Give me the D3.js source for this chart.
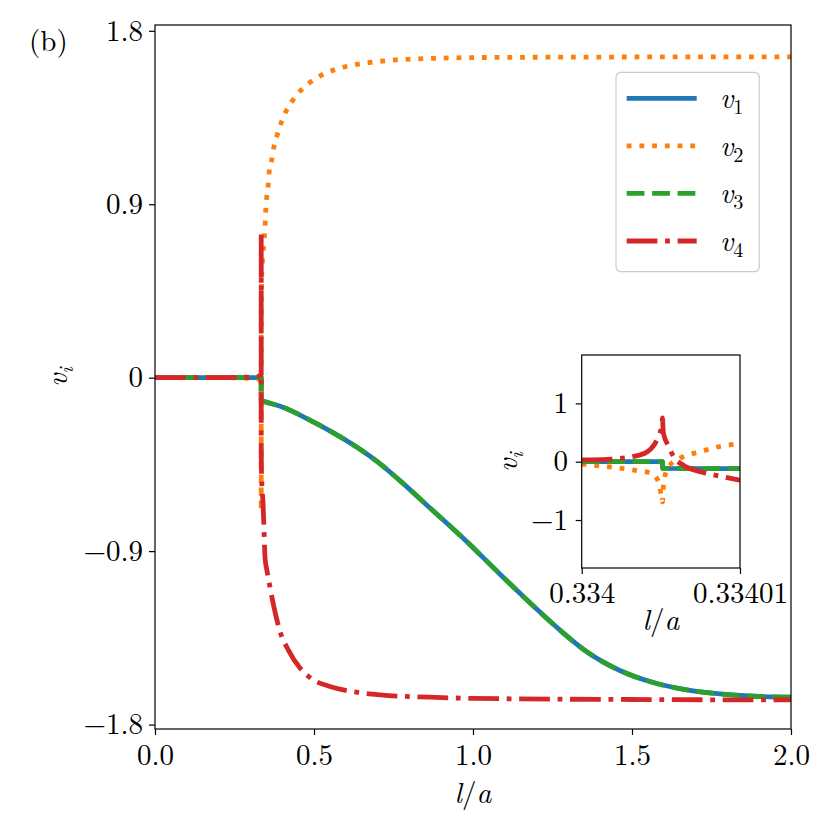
<!DOCTYPE html>
<html><head><meta charset="utf-8">
<script src="https://cdn.jsdelivr.net/npm/d3@7"></script>
<style>
body{margin:0;background:#fff}
svg{display:block}
text{font-family:"Latin Modern Roman","Liberation Serif",serif;fill:#000}
</style>
</head><body>
<svg id="chart" width="830" height="830"></svg>
<script>
// ---------------- data ----------------
const seriesLabels = ["1", "2", "3", "4"];           // subscripts of v_i
const seriesColors = ["#1f77b4", "#ff7f0e", "#2ca02c", "#d62728"];

const xTicksMain = [0, 0.5, 1.0, 1.5, 2.0];
const xTickLabelsMain = ["0.0", "0.5", "1.0", "1.5", "2.0"];
const yTicksMain = [-1.8, -0.9, 0, 0.9, 1.8];
const yTickLabelsMain = ["\u22121.8", "\u22120.9", "0", "0.9", "1.8"];
const xTicksInset = [0.334, 0.33401];
const xTickLabelsInset = ["0.334", "0.33401"];
const yTicksInset = [-1, 0, 1];
const yTickLabelsInset = ["\u22121", "0", "1"];

// values near the transition (inset window 0.334 .. 0.33401)
const v1Inset = [[0.334,0],[0.3340051,0],[0.33400512,-0.115],[0.33401,-0.118]];
const v3Inset = [[0.334,0],[0.3340051,0],[0.33400512,-0.115],[0.33401,-0.118]];
const v2Inset = [[0.334,-0.04],[0.3340013,-0.075],[0.3340033,-0.144],[0.3340044,-0.2],[0.3340049,-0.375],
  [0.3340051,-0.69],[0.33400516,-0.42],[0.3340053,-0.2],[0.33400558,-0.057],[0.3340062,0.058],
  [0.3340075,0.173],[0.3340087,0.26],[0.33401,0.307]];
const v4Inset = [[0.334,0.03],[0.3340016,0.04],[0.3340037,0.116],[0.3340045,0.26],[0.3340048,0.405],
  [0.33400505,0.61],[0.3340051,0.75],[0.33400516,0.49],[0.3340055,0.26],[0.3340058,0.087],
  [0.3340064,-0.057],[0.3340075,-0.173],[0.3340087,-0.248],[0.33401,-0.317]];

// values over the full range 0 .. 2
const v1Before = [[0,0],[0.2,0],[0.333,0]];
const v1After = [[0.341,-0.122],[0.40,-0.152],[0.487,-0.22],[0.55,-0.276],[0.634,-0.36],[0.70,-0.437],
  [0.77,-0.534],[0.87,-0.684],[0.98,-0.85],[1.085,-1.02],[1.19,-1.185],[1.27,-1.305],[1.36,-1.425],
  [1.46,-1.518],[1.567,-1.582],[1.672,-1.62],[1.777,-1.641],[1.881,-1.653],[2.0,-1.658]];
const v3Before = [[0,0],[0.2,0],[0.333,0]];
const v3After = [[0.341,-0.122],[0.40,-0.152],[0.487,-0.22],[0.55,-0.276],[0.634,-0.36],[0.70,-0.437],
  [0.77,-0.534],[0.87,-0.684],[0.98,-0.85],[1.085,-1.02],[1.19,-1.185],[1.27,-1.305],[1.36,-1.425],
  [1.46,-1.518],[1.567,-1.582],[1.672,-1.62],[1.777,-1.641],[1.881,-1.653],[2.0,-1.658]];
const v2Before = [[0,0],[0.2,0],[0.32,-0.005],[0.333,-0.02]];
const v2After = [[0.3342,0.4],[0.335,0.5],[0.337,0.58],[0.340,0.65],[0.343,0.71],[0.346,0.78],
  [0.348,0.86],[0.351,0.93],[0.356,1.0],[0.359,1.065],[0.367,1.13],[0.374,1.198],[0.385,1.264],
  [0.398,1.328],[0.414,1.389],[0.437,1.448],[0.464,1.50],[0.496,1.542],[0.531,1.576],[0.569,1.60],
  [0.61,1.618],[0.651,1.63],[0.693,1.639],[0.734,1.646],[0.775,1.651],[0.818,1.654],[0.858,1.656],
  [0.90,1.658],[1.0,1.661],[1.5,1.664],[2.0,1.665]];
const v4Before = [[0,0],[0.2,0],[0.32,0.005],[0.333,0.015]];
const v4After = [[0.3342,-0.4],[0.335,-0.5],[0.337,-0.58],[0.340,-0.66],[0.343,-0.8],[0.346,-0.935],
  [0.352,-1.0],[0.362,-1.09],[0.374,-1.19],[0.393,-1.316],[0.419,-1.412],[0.456,-1.507],[0.498,-1.568],
  [0.550,-1.602],[0.634,-1.632],[0.708,-1.646],[0.865,-1.658],[1.0,-1.664],[1.5,-1.670],[2.0,-1.672]];

const mainSeries = [
  v1Before.concat(v1Inset, v1After),
  v2Before.concat(v2Inset, v2After),
  v3Before.concat(v3Inset, v3After),
  v4Before.concat(v4Inset, v4After)
];
const insetSeries = [v1Inset, v2Inset, v3Inset, v4Inset];

// ---------------- style ----------------
const LW = 4.8;
const dashes = ["none", `${LW} ${1.65*LW}`, `${3.7*LW} ${1.6*LW}`, `${6.4*LW} ${1.6*LW} ${LW} ${1.6*LW}`];
const FS = 29;
const FONT = "'Latin Modern Roman','Liberation Serif',serif";

const svg = d3.select("#chart");

const M = {left:155, right:791, top:25, bottom:729};
const I = {left:581.7, right:740, top:355, bottom:568};

const x = d3.scaleLinear().domain([0, 2]).range([M.left, M.right]);
const y = d3.scaleLinear().domain([-1.823, 1.830]).range([M.bottom, M.top]);
const xi = d3.scaleLinear().domain([0.334, 0.33401]).range([I.left, I.right]);
const yi = d3.scaleLinear().domain([-1.823, 1.830]).range([I.bottom, I.top]);

const defs = svg.append("defs");
defs.append("clipPath").attr("id","clipMain").append("rect")
  .attr("x",M.left).attr("y",M.top).attr("width",M.right-M.left).attr("height",M.bottom-M.top);
defs.append("clipPath").attr("id","clipInset").append("rect")
  .attr("x",I.left).attr("y",I.top).attr("width",I.right-I.left).attr("height",I.bottom-I.top);

function drawLines(g, data, sx, sy, clip){
  const line = d3.line().x(d=>sx(d[0])).y(d=>sy(d[1])).curve(d3.curveMonotoneX);
  g.append("g").attr("clip-path",`url(#${clip})`)
    .selectAll("path").data(data).join("path")
    .attr("d", d=>line(d))
    .attr("fill","none")
    .attr("stroke",(d,i)=>seriesColors[i])
    .attr("stroke-width",LW)
    .attr("stroke-dasharray",(d,i)=>dashes[i])
    .attr("stroke-linejoin","round")
    .attr("stroke-linecap","butt");
}

function styleAxis(g){
  g.select(".domain").remove();
  g.selectAll(".tick line").attr("stroke","#000").attr("stroke-width",1.2);
  g.selectAll(".tick text").attr("font-size",FS).attr("font-family",FONT).attr("fill","#000");
  g.attr("font-size",null).attr("font-family",null);
}

function mathLabel(parent, xPos, yPos, parts, opts={}){
  const t = parent.append("text").attr("x",xPos).attr("y",yPos)
    .attr("font-size",FS).attr("text-anchor",opts.anchor||"middle");
  if (opts.rotate) t.attr("transform",`rotate(-90,${xPos},${yPos})`);
  parts.forEach(p=>{
    const s = t.append("tspan").text(p.t);
    if (p.it) s.attr("font-style","italic");
    if (p.sub){ s.attr("font-size",FS*0.7).attr("dy",6); }
  });
  return t;
}

// ---------------- main axes ----------------
const gMain = svg.append("g");
drawLines(gMain, mainSeries, x, y, "clipMain");

const gx = svg.append("g").attr("transform",`translate(0,${M.bottom})`)
  .call(d3.axisBottom(x).tickValues(xTicksMain).tickFormat((d,i)=>xTickLabelsMain[i]).tickSize(6).tickSizeOuter(0).tickPadding(9));
styleAxis(gx);
const gy = svg.append("g").attr("transform",`translate(${M.left},0)`)
  .call(d3.axisLeft(y).tickValues(yTicksMain).tickFormat((d,i)=>yTickLabelsMain[i]).tickSize(6).tickSizeOuter(0).tickPadding(6));
styleAxis(gy);

svg.append("rect").attr("x",M.left).attr("y",M.top).attr("width",M.right-M.left).attr("height",M.bottom-M.top)
  .attr("fill","none").attr("stroke","#000").attr("stroke-width",1.2);

mathLabel(svg, (M.left+M.right)/2, 803, [{t:"l",it:true},{t:"/"},{t:"a",it:true}]);
mathLabel(svg, 67, 377, [{t:"v",it:true},{t:"i",it:true,sub:true}], {rotate:true});
svg.append("text").attr("x",29).attr("y",51).attr("font-size",FS).text("(b)");

// ---------------- legend ----------------
const leg = svg.append("g");
leg.append("rect").attr("x",616).attr("y",72.3).attr("width",143.3).attr("height",199.4)
  .attr("rx",5).attr("fill","#fff").attr("fill-opacity",0.8).attr("stroke","#cccccc").attr("stroke-width",1.2);
const rowY = d3.scaleLinear().domain([0,3]).range([98.3,241]);
seriesLabels.forEach((lab,i)=>{
  leg.append("line").attr("x1",626.7).attr("x2",696.7).attr("y1",rowY(i)).attr("y2",rowY(i))
    .attr("stroke",seriesColors[i]).attr("stroke-width",LW).attr("stroke-dasharray",dashes[i]);
  mathLabel(leg, 720, rowY(i)+10, [{t:"v",it:true},{t:lab,sub:true}], {anchor:"start"});
});

// ---------------- inset ----------------
svg.append("rect").attr("x",I.left).attr("y",I.top).attr("width",I.right-I.left).attr("height",I.bottom-I.top)
  .attr("fill","#fff");
const gIn = svg.append("g");
drawLines(gIn, insetSeries, xi, yi, "clipInset");
const gxi = svg.append("g").attr("transform",`translate(0,${I.bottom})`)
  .call(d3.axisBottom(xi).tickValues(xTicksInset).tickFormat((d,i)=>xTickLabelsInset[i]).tickSize(6).tickSizeOuter(0).tickPadding(8.4));
styleAxis(gxi);
const gyi = svg.append("g").attr("transform",`translate(${I.left},0)`)
  .call(d3.axisLeft(yi).tickValues(yTicksInset).tickFormat((d,i)=>yTickLabelsInset[i]).tickSize(6).tickSizeOuter(0).tickPadding(7.7));
styleAxis(gyi);
svg.append("rect").attr("x",I.left).attr("y",I.top).attr("width",I.right-I.left).attr("height",I.bottom-I.top)
  .attr("fill","none").attr("stroke","#000").attr("stroke-width",1.2);
mathLabel(svg, (I.left+I.right)/2, 630, [{t:"l",it:true},{t:"/"},{t:"a",it:true}]);
mathLabel(svg, 517, 462, [{t:"v",it:true},{t:"i",it:true,sub:true}], {rotate:true});
</script>
</body></html>
